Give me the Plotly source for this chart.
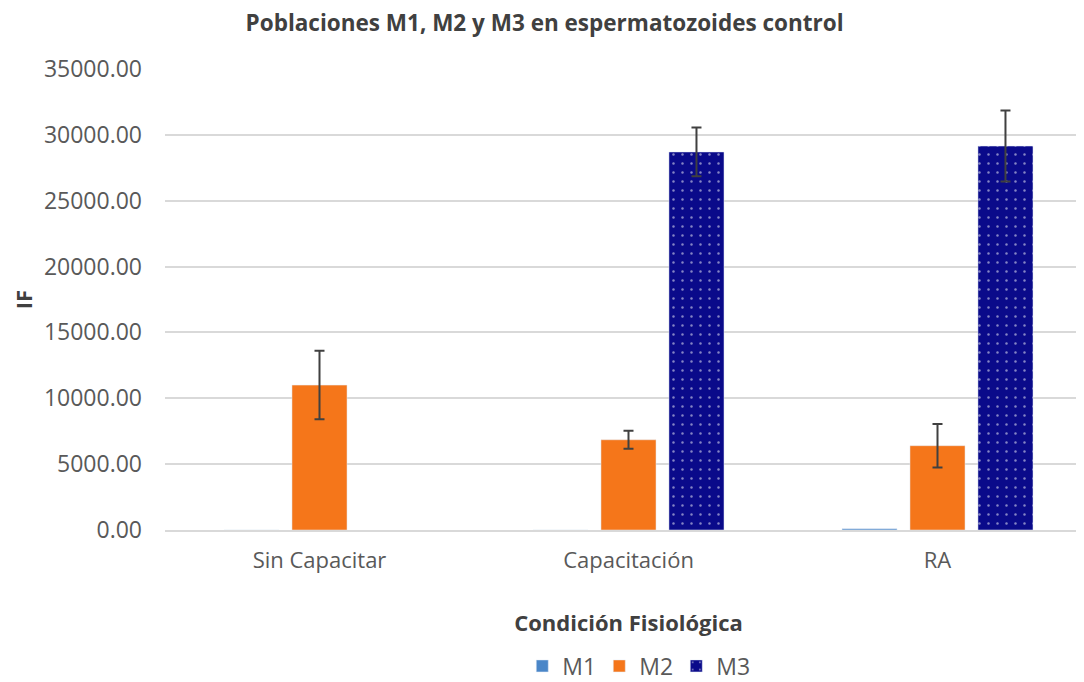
import plotly.graph_objects as go

categories = ["Sin Capacitar", "Capacitación", "RA"]
m1 = [0, 0, 90]
m2 = [11000, 6850, 6400]
m2_err = [2600, 680, 1650]
m3 = [None, 28700, 29150]
m3_err = [0, 1850, 2700]

fig = go.Figure()
fig.add_trace(go.Bar(name="M1", x=categories, y=m1, marker_color="#4a86c8"))
fig.add_trace(go.Bar(name="M2", x=categories, y=m2, marker_color="#f5761a",
                     error_y=dict(type="data", array=m2_err, color="#404040", thickness=2, width=5)))
fig.add_trace(go.Bar(name="M3", x=categories, y=m3,
                     marker=dict(color="#0a0a8a", pattern=dict(shape=".", fgcolor="white", bgcolor="#0a0a8a",
                                                               size=9, solidity=0.06)),
                     error_y=dict(type="data", array=m3_err, color="#404040", thickness=2, width=5)))

font = "Open Sans, Segoe UI, sans-serif"
fig.update_layout(
    width=1084, height=674,
    barmode="group", bargap=0.34, bargroupgap=0.19,
    plot_bgcolor="white", paper_bgcolor="white",
    margin=dict(l=157, r=0, t=61, b=152, autoexpand=False),
    title=dict(text="<b>Poblaciones M1, M2 y M3 en espermatozoides control</b>", x=0.495, xanchor="center",
               y=0.977, yanchor="middle", font=dict(family=font, size=22.5, color="#404040")),
    font=dict(family=font, color="#595959"),
    legend=dict(orientation="h", x=0.51, xanchor="center", y=-0.295, yanchor="middle",
                font=dict(size=23, color="#595959"), itemwidth=30,
                entrywidth=32, entrywidthmode="pixels"),
)
fig.update_yaxes(range=[0, 35000], dtick=5000, tickformat=".2f", gridcolor="#d9d9d9", gridwidth=2,
                 tickfont=dict(size=23, color="#595959"), zeroline=False, ticks="", automargin=False,
                 ticklabelstandoff=22,
                 title=dict(text="<b>IF</b>", font=dict(size=22, color="#404040"), standoff=20))
fig.update_xaxes(showline=True, linecolor="#d9d9d9", linewidth=2, tickfont=dict(size=22, color="#595959"),
                 automargin=False, ticklabelstandoff=10,
                 title=dict(text="<b>Condición Fisiológica</b>", font=dict(size=22, color="#404040"), standoff=42))

fig.write_html("out.html")
